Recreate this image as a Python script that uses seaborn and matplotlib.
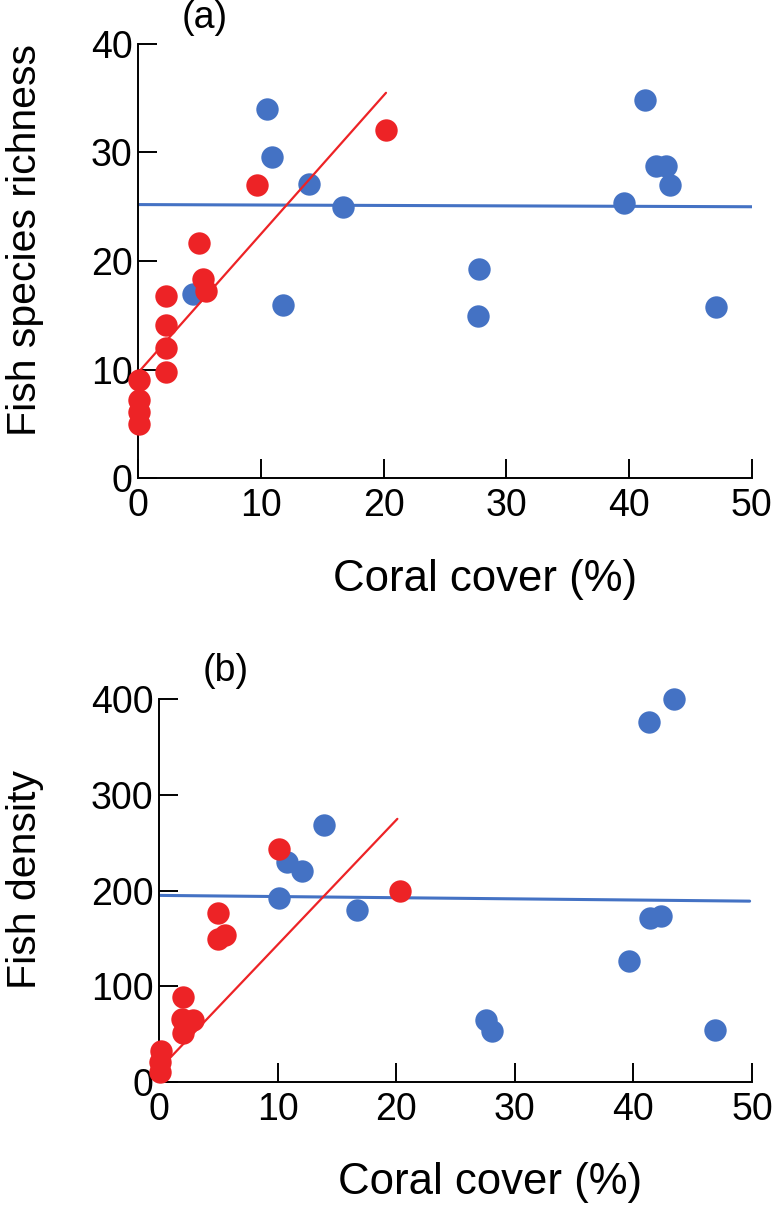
import matplotlib
matplotlib.use("Agg")
import matplotlib.pyplot as plt
import seaborn as sns

sns.set_theme(style="ticks")
plt.rcParams["font.family"] = ["Liberation Sans", "DejaVu Sans"]
plt.rcParams.update({"text.color": "black", "axes.labelcolor": "black"})

RED = "#ED2326"
BLUE = "#4472C4"

# ---- (a) fish species richness vs coral cover ----
a_red_x = [0.1, 0.1, 0.1, 0.1, 2.3, 2.3, 2.3, 2.3, 5.0, 5.3, 5.5, 9.7, 20.2]
a_red_y = [9.0, 7.2, 6.1, 5.0, 16.8, 14.1, 12.0, 9.8, 21.7, 18.3, 17.2, 27.0, 32.1]
a_blue_x = [4.5, 10.5, 10.9, 13.9, 16.7, 11.8, 27.8, 27.7, 39.6, 41.3, 42.2, 43.0, 43.3, 47.1]
a_blue_y = [17.0, 34.0, 29.6, 27.1, 25.0, 15.9, 19.3, 14.9, 25.3, 34.8, 28.8, 28.8, 27.0, 15.8]
a_red_fit_x, a_red_fit_y = [0, 20.2], [9.7, 35.5]
a_blue_fit_x, a_blue_fit_y = [0, 50], [25.2, 25.0]

# ---- (b) fish density vs coral cover ----
b_red_x = [0.2, 0.1, 0.1, 2.0, 1.9, 2.9, 2.0, 5.0, 5.6, 5.0, 10.1, 20.3]
b_red_y = [32, 21, 10, 89, 66, 65, 51, 177, 154, 149, 244, 200]
b_blue_x = [10.8, 12.1, 10.1, 13.9, 16.7, 27.6, 28.1, 39.6, 41.4, 42.3, 41.3, 43.4, 46.9]
b_blue_y = [230, 221, 192, 269, 180, 65, 53, 126, 171, 173, 376, 400, 54]
b_red_fit_x, b_red_fit_y = [0, 20.1], [13, 275]
b_blue_fit_x, b_blue_fit_y = [0, 49.8], [195, 189]

x_ticks = [0, 10, 20, 30, 40, 50]
a_y_ticks = [0, 10, 20, 30, 40]
b_y_ticks = [0, 100, 200, 300, 400]


def panel(ax, red_x, red_y, blue_x, blue_y, red_fit, blue_fit, yticks,
          ylabel, tag, tag_xy, ylab_xy, xlab_xy):
    ax.plot(*blue_fit, color=BLUE, lw=2.2, zorder=2)
    sns.scatterplot(x=blue_x, y=blue_y, color=BLUE, s=260, linewidth=0,
                    ax=ax, clip_on=False, zorder=3)
    sns.scatterplot(x=red_x, y=red_y, color=RED, s=260, linewidth=0,
                    ax=ax, clip_on=False, zorder=4)
    ax.plot(*red_fit, color=RED, lw=1.6, zorder=5)

    ax.set_xlim(0, 50)
    ax.set_ylim(yticks[0], yticks[-1])
    ax.set_xticks(x_ticks)
    ax.set_yticks(yticks)
    ax.tick_params(direction="in", length=14, width=1.4, labelsize=27,
                   colors="black")
    ax.tick_params(axis="x", pad=7)
    ax.tick_params(axis="y", pad=4)
    sns.despine(ax=ax)
    for side in ("left", "bottom"):
        ax.spines[side].set_linewidth(1.4)
        ax.spines[side].set_color("black")

    ax.set_xlabel("Coral cover (%)", fontsize=31.5, va="top")
    ax.xaxis.set_label_coords(*xlab_xy)
    ax.set_ylabel(ylabel, fontsize=29.5)
    ax.yaxis.set_label_coords(*ylab_xy)
    ax.text(*tag_xy, tag, transform=ax.transAxes, fontsize=27,
            ha="center", va="center")


fig = plt.figure(figsize=(7.77, 12.05), dpi=100)
ax_a = fig.add_axes([0.1776, 0.6033, 0.790, 0.3602])
ax_b = fig.add_axes([0.2046, 0.1021, 0.7632, 0.3176])

panel(ax_a, a_red_x, a_red_y, a_blue_x, a_blue_y,
      (a_red_fit_x, a_red_fit_y), (a_blue_fit_x, a_blue_fit_y),
      a_y_ticks, "Fish species richness", "(a)", (0.109, 1.06),
      (-0.153, 0.548), (0.566, -0.186))
panel(ax_b, b_red_x, b_red_y, b_blue_x, b_blue_y,
      (b_red_fit_x, b_red_fit_y), (b_blue_fit_x, b_blue_fit_y),
      b_y_ticks, "Fish density", "(b)", (0.113, 1.074),
      (-0.194, 0.53), (0.558, -0.21))

fig.savefig("out.png", dpi=100, facecolor="white")
